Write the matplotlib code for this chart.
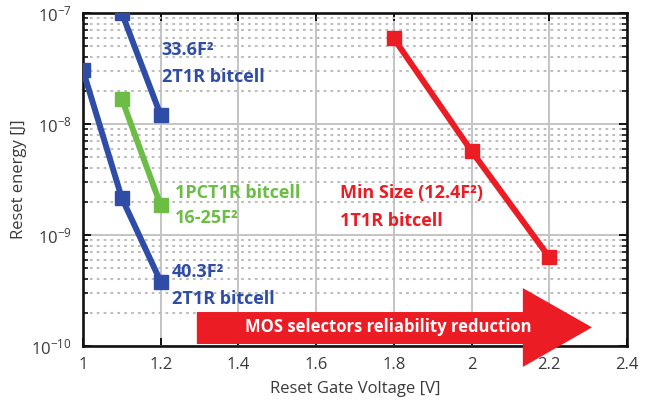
import matplotlib
matplotlib.use("Agg")
import matplotlib.pyplot as plt
from matplotlib.patches import Polygon
from matplotlib.transforms import blended_transform_factory
from matplotlib.ticker import LogLocator, NullFormatter, FixedLocator

plt.rcParams["font.family"] = ["Open Sans", "DejaVu Sans"]
plt.rcParams["mathtext.fontset"] = "custom"
plt.rcParams["mathtext.rm"] = "Open Sans"
plt.rcParams["mathtext.it"] = "Open Sans"

# Reset gate voltage [V] and reset energy [J] for each bitcell type
v_2t1r_403 = [1.0, 1.1, 1.2]
e_2t1r_403 = [3.05e-8, 2.15e-9, 3.8e-10]

v_2t1r_336 = [1.1, 1.2]
e_2t1r_336 = [1.0e-7, 1.2e-8]

v_1pct1r = [1.1, 1.2]
e_1pct1r = [1.68e-8, 1.85e-9]

v_1t1r = [1.8, 2.0, 2.2]
e_1t1r = [5.9e-8, 5.7e-9, 6.3e-10]

x_ticks = [1, 1.2, 1.4, 1.6, 1.8, 2, 2.2, 2.4]
x_tick_labels = ["1", "1.2", "1.4", "1.6", "1.8", "2", "2.2", "2.4"]

BLUE = "#2f4da6"
GREEN = "#6cbd45"
RED = "#ec1c24"
TXT = "#3a3a3a"

fig = plt.figure(figsize=(6.54, 4.08), dpi=100)
ax = fig.add_axes([0.1269, 0.152, 0.8318, 0.816])

line_kw = dict(lw=4.3, marker="s", markersize=10.5, solid_capstyle="butt", zorder=4)
ax.plot(v_2t1r_403, e_2t1r_403, color=BLUE, **line_kw)
ax.plot(v_2t1r_336, e_2t1r_336, color=BLUE, **line_kw)
ax.plot(v_1pct1r, e_1pct1r, color=GREEN, **line_kw)
ax.plot(v_1t1r, e_1t1r, color=RED, **line_kw)

ax.set_yscale("log")
ax.set_xlim(1, 2.4)
ax.set_ylim(1e-10, 1e-7)
ax.xaxis.set_major_locator(FixedLocator(x_ticks))
ax.set_xticklabels(x_tick_labels)
ax.yaxis.set_major_locator(LogLocator(base=10, numticks=10))
ax.yaxis.set_minor_locator(LogLocator(base=10, subs=range(2, 10), numticks=20))
ax.yaxis.set_minor_formatter(NullFormatter())

ax.grid(True, which="major", color="#c4c4c4", lw=1.4, ls="-", zorder=0)
ax.grid(True, which="minor", axis="y", color="#bdbdbd", lw=1.5, ls=(0, (1.3, 2.0)), zorder=0)
ax.set_axisbelow(True)

for s in ax.spines.values():
    s.set_linewidth(1.9)
    s.set_color("#111111")

ax.tick_params(which="both", direction="in", top=True, right=True, labelcolor=TXT,
               labelsize=12, color="#111111")
ax.tick_params(which="major", length=6, width=1.4, pad=8)
ax.tick_params(which="minor", length=3.5, width=1.2)

ax.set_xlabel("Reset Gate Voltage [V]", fontsize=12, color=TXT, labelpad=6)
ax.set_ylabel("Reset energy [J]", fontsize=12, color=TXT, labelpad=3)

# Series labels
lab = dict(fontsize=13, fontweight="bold", va="center", ha="left", zorder=5)
ax.text(1.203, 4.64e-8, "33.6F²", color=BLUE, **lab)
ax.text(1.203, 2.65e-8, "2T1R bitcell", color=BLUE, **lab)
ax.text(1.237, 2.39e-9, "1PCT1R bitcell", color=GREEN, **lab)
ax.text(1.237, 1.42e-9, "16-25F²", color=GREEN, **lab)
ax.text(1.229, 4.64e-10, "40.3F²", color=BLUE, **lab)
ax.text(1.229, 2.65e-10, "2T1R bitcell", color=BLUE, **lab)
ax.text(1.661, 2.39e-9, "Min Size (12.4F²)", color=RED, **lab)
ax.text(1.661, 1.34e-9, "1T1R bitcell", color=RED, **lab)

# Big arrow along the bottom of the plot
tr = blended_transform_factory(ax.transData, ax.transAxes)
body_top, body_bot = 0.102, 0.006
head_top, head_bot = 0.174, -0.063
mid = 0.056
x0, xh, xt = 1.293, 2.132, 2.31
arrow = Polygon([(x0, body_bot), (xh, body_bot), (xh, head_bot), (xt, mid),
                 (xh, head_top), (xh, body_top), (x0, body_top)],
                closed=True, facecolor=RED, edgecolor="none", transform=tr,
                clip_on=False, zorder=6)
ax.add_patch(arrow)
ax.text(1.785, mid, "MOS selectors reliability reduction", transform=tr,
        color="white", fontsize=12, fontweight="bold", ha="center", va="center", zorder=7)

fig.savefig("out.png", dpi=100)
